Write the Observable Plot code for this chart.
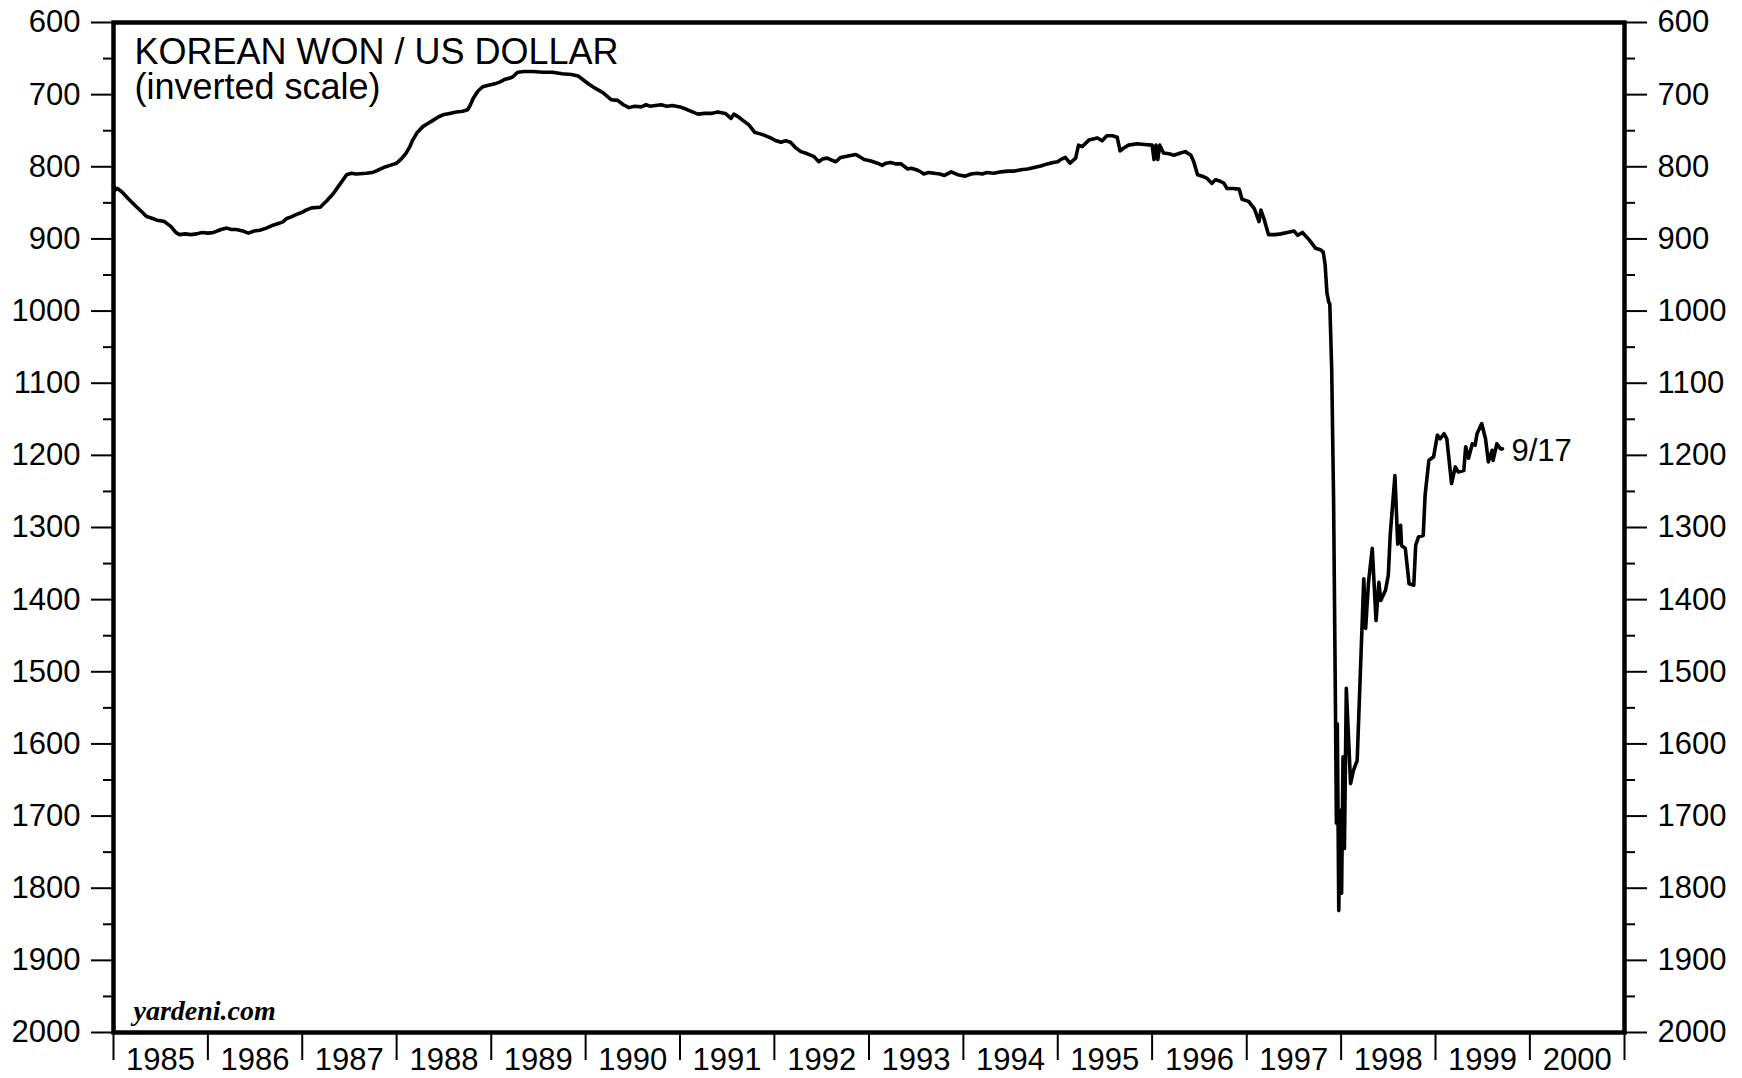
<!DOCTYPE html>
<html>
<head>
<meta charset="utf-8">
<script src="https://cdn.jsdelivr.net/npm/d3@7"></script>
<script src="https://cdn.jsdelivr.net/npm/@observablehq/plot@0.6"></script>
<style>
  html, body { margin: 0; padding: 0; background: #ffffff; }
  #chart svg { display: block; }
</style>
</head>
<body>
<div id="chart"></div>
<script>
// Weekly Korean won per US dollar (decimal year, won)
const time = [
  1985.00, 1985.02, 1985.04, 1985.09, 1985.17, 1985.24, 1985.28, 1985.35, 1985.40, 1985.46,
  1985.51, 1985.54, 1985.61, 1985.66, 1985.70, 1985.76, 1985.82, 1985.88, 1985.94, 1986.00,
  1986.06, 1986.14, 1986.20, 1986.25, 1986.30, 1986.37, 1986.43, 1986.49, 1986.55, 1986.62,
  1986.69, 1986.76, 1986.80, 1986.83, 1986.89, 1986.94, 1987.00, 1987.04, 1987.10, 1987.19,
  1987.26, 1987.33, 1987.40, 1987.47, 1987.52, 1987.57, 1987.68, 1987.74, 1987.78, 1987.86,
  1987.93, 1988.00, 1988.05, 1988.10, 1988.14, 1988.17, 1988.22, 1988.28, 1988.33, 1988.38,
  1988.44, 1988.49, 1988.56, 1988.63, 1988.70, 1988.75, 1988.78, 1988.81, 1988.86, 1988.91,
  1988.97, 1989.04, 1989.10, 1989.14, 1989.20, 1989.23, 1989.28, 1989.35, 1989.44, 1989.55,
  1989.65, 1989.75, 1989.85, 1989.92, 1989.98, 1990.04, 1990.10, 1990.18, 1990.27, 1990.34,
  1990.40, 1990.46, 1990.52, 1990.59, 1990.64, 1990.68, 1990.74, 1990.80, 1990.86, 1990.92,
  1991.00, 1991.08, 1991.19, 1991.26, 1991.33, 1991.40, 1991.48, 1991.54, 1991.57, 1991.62,
  1991.68, 1991.73, 1991.79, 1991.84, 1991.89, 1991.96, 1992.02, 1992.07, 1992.12, 1992.17,
  1992.22, 1992.28, 1992.35, 1992.42, 1992.47, 1992.51, 1992.56, 1992.61, 1992.65, 1992.70,
  1992.78, 1992.86, 1992.90, 1992.95, 1993.02, 1993.09, 1993.14, 1993.18, 1993.23, 1993.28,
  1993.34, 1993.41, 1993.45, 1993.50, 1993.55, 1993.58, 1993.63, 1993.69, 1993.75, 1993.80,
  1993.87, 1993.94, 1994.02, 1994.08, 1994.15, 1994.20, 1994.25, 1994.32, 1994.40, 1994.47,
  1994.54, 1994.61, 1994.68, 1994.75, 1994.82, 1994.89, 1994.95, 1995.00, 1995.03, 1995.08,
  1995.13, 1995.19, 1995.22, 1995.26, 1995.33, 1995.42, 1995.47, 1995.52, 1995.58, 1995.63,
  1995.66, 1995.70, 1995.75, 1995.84, 1995.92, 1996.00, 1996.02, 1996.04, 1996.06, 1996.08,
  1996.12, 1996.18, 1996.23, 1996.30, 1996.35, 1996.41, 1996.44, 1996.48, 1996.53, 1996.58,
  1996.63, 1996.67, 1996.72, 1996.76, 1996.79, 1996.85, 1996.92, 1996.95, 1997.02, 1997.08,
  1997.13, 1997.15, 1997.18, 1997.23, 1997.30, 1997.36, 1997.43, 1997.50, 1997.54, 1997.59,
  1997.66, 1997.73, 1997.78, 1997.81, 1997.83, 1997.85, 1997.87, 1997.88, 1997.900, 1997.920,
  1997.940, 1997.950, 1997.960, 1997.975, 1997.990, 1998.005, 1998.020, 1998.035, 1998.055, 1998.100,
  1998.130, 1998.17, 1998.24, 1998.26, 1998.29, 1998.33, 1998.37, 1998.40, 1998.42, 1998.47,
  1998.50, 1998.52, 1998.57, 1998.60, 1998.63, 1998.64, 1998.68, 1998.72, 1998.77, 1998.79,
  1998.82, 1998.87, 1998.89, 1998.93, 1998.98, 1999.02, 1999.05, 1999.09, 1999.12, 1999.17,
  1999.21, 1999.24, 1999.30, 1999.32, 1999.35, 1999.39, 1999.42, 1999.44, 1999.49, 1999.53,
  1999.56, 1999.60, 1999.61, 1999.65, 1999.69, 1999.71
];
const won = [
  826, 832, 830, 835, 846, 855, 860, 869, 871, 874,
  875, 876, 883, 891, 894, 893, 894, 893, 891, 892,
  891, 887, 885, 887, 887, 889, 892, 889, 888, 885,
  881, 878, 876, 872, 869, 866, 863, 860, 857, 856,
  847, 837, 824, 811, 809, 810, 809, 808, 806, 801,
  798, 795, 789, 781, 772, 763, 752, 744, 740, 736,
  731, 728, 726, 724, 723, 721, 714, 705, 695, 689,
  687, 685, 682, 679, 677, 675, 669, 668, 668, 669,
  669, 671, 672, 674, 680, 686, 691, 697, 707, 708,
  714, 718, 716, 717, 714, 716, 715, 714, 716, 715,
  717, 721, 727, 726, 726, 724, 726, 733, 727, 731,
  737, 742, 752, 754, 756, 760, 764, 766, 764, 766,
  773, 779, 782, 786, 793, 789, 788, 791, 793, 787,
  785, 783, 786, 790, 792, 795, 798, 795, 794, 796,
  796, 803, 802, 804, 807, 810, 808, 809, 810, 812,
  807, 811, 813, 810, 809, 810, 808, 809, 807, 806,
  806, 804, 803, 801, 799, 796, 794, 793, 790, 787,
  795, 788, 770, 772, 763, 760, 764, 757, 757, 759,
  778, 774, 770, 768, 769, 770, 790, 770, 790, 770,
  781, 782, 784, 781, 779, 784, 793, 811, 813, 816,
  823, 818, 820, 823, 830, 830, 831, 845, 848, 858,
  876, 860, 871, 894, 894, 893, 891, 889, 895, 891,
  901, 913, 915, 918, 935, 975, 988, 990, 1080, 1260,
  1550, 1710, 1572, 1831, 1692, 1807, 1618, 1745, 1523, 1655,
  1637, 1623, 1371, 1440, 1376, 1329, 1429, 1376, 1401, 1387,
  1366, 1311, 1228, 1323, 1297, 1325, 1329, 1378, 1380, 1325,
  1313, 1311, 1255, 1207, 1202, 1172, 1177, 1170, 1177, 1239,
  1216, 1223, 1221, 1188, 1204, 1184, 1186, 1170, 1156, 1177,
  1209, 1193, 1207, 1184, 1191, 1191
];

const yMajorTicks = [600, 700, 800, 900, 1000, 1100, 1200, 1300, 1400, 1500, 1600, 1700, 1800, 1900, 2000];
const yMinorTicks = [650, 750, 850, 950, 1050, 1150, 1250, 1350, 1450, 1550, 1650, 1750, 1850, 1950];
const yearLabels = [1985, 1986, 1987, 1988, 1989, 1990, 1991, 1992, 1993, 1994, 1995, 1996, 1997, 1998, 1999, 2000];
const titleText = "KOREAN WON / US DOLLAR\n(inverted scale)";
const lastLabel = "9/17";
const sourceLabel = "yardeni.com";

function toDate(t) {
  const y = Math.floor(t);
  const a = Date.UTC(y, 0, 1), b = Date.UTC(y + 1, 0, 1);
  return new Date(a + (t - y) * (b - a));
}

const data = time.map((t, i) => ({date: toDate(t), value: won[i]}));
const last = data[data.length - 1];
const yearBounds = yearLabels.concat([2001]).map(y => new Date(Date.UTC(y, 0, 1)));
const yearMids = yearLabels.map(y => new Date(Date.UTC(y, 6, 2)));

const FONT = "'Liberation Sans', Arial, Helvetica, sans-serif";

const chart = Plot.plot({
  width: 1742,
  height: 1078,
  marginLeft: 113,
  marginRight: 118,
  marginTop: 22,
  marginBottom: 46,
  style: {fontFamily: FONT, fontSize: "31px", color: "#000", background: "#fff", overflow: "visible"},
  x: {type: "utc", domain: [yearBounds[0], yearBounds[yearBounds.length - 1]]},
  y: {domain: [600, 2000], reverse: true},
  marks: [
    Plot.axisY({anchor: "left", ticks: yMajorTicks, tickSize: 22, tickPadding: 11, tickFormat: d => String(d), fontSize: 31, strokeWidth: 2, label: null}),
    Plot.axisY({anchor: "left", ticks: yMinorTicks, tickSize: 10, text: null, strokeWidth: 2, label: null}),
    Plot.axisY({anchor: "right", ticks: yMajorTicks, tickSize: 22, tickPadding: 11, tickFormat: d => String(d), fontSize: 31, strokeWidth: 2, label: null}),
    Plot.axisY({anchor: "right", ticks: yMinorTicks, tickSize: 10, text: null, strokeWidth: 2, label: null}),
    Plot.axisX({anchor: "bottom", ticks: yearBounds, tickSize: 28, text: null, strokeWidth: 2, label: null}),
    Plot.axisX({anchor: "bottom", ticks: yearMids, tickSize: 0, tickPadding: 15, tickFormat: d3.utcFormat("%Y"), fontSize: 31, label: null}),
    Plot.frame({stroke: "#000", strokeWidth: 4.5}),
    Plot.line(data, {x: "date", y: "value", stroke: "#000", strokeWidth: 3.6, strokeLinejoin: "round"}),
    Plot.text([last], {x: "date", y: "value", text: () => lastLabel, textAnchor: "start", lineAnchor: "middle", dx: 9, dy: 2, fontSize: 31, fill: "#000"}),
    Plot.text([titleText], {frameAnchor: "top-left", text: d => d, textAnchor: "start", lineAnchor: "top", lineHeight: 0.98, dx: 21, dy: 16, fontSize: 36, fill: "#000"}),
    Plot.text([sourceLabel], {frameAnchor: "bottom-left", text: d => d, textAnchor: "start", lineAnchor: "bottom", dx: 20, dy: -13, fontSize: 28, fontWeight: "bold", fontStyle: "italic", fontFamily: "'Liberation Serif', 'Times New Roman', serif", fill: "#000"})
  ]
});

document.getElementById("chart").appendChild(chart);
</script>
</body>
</html>
